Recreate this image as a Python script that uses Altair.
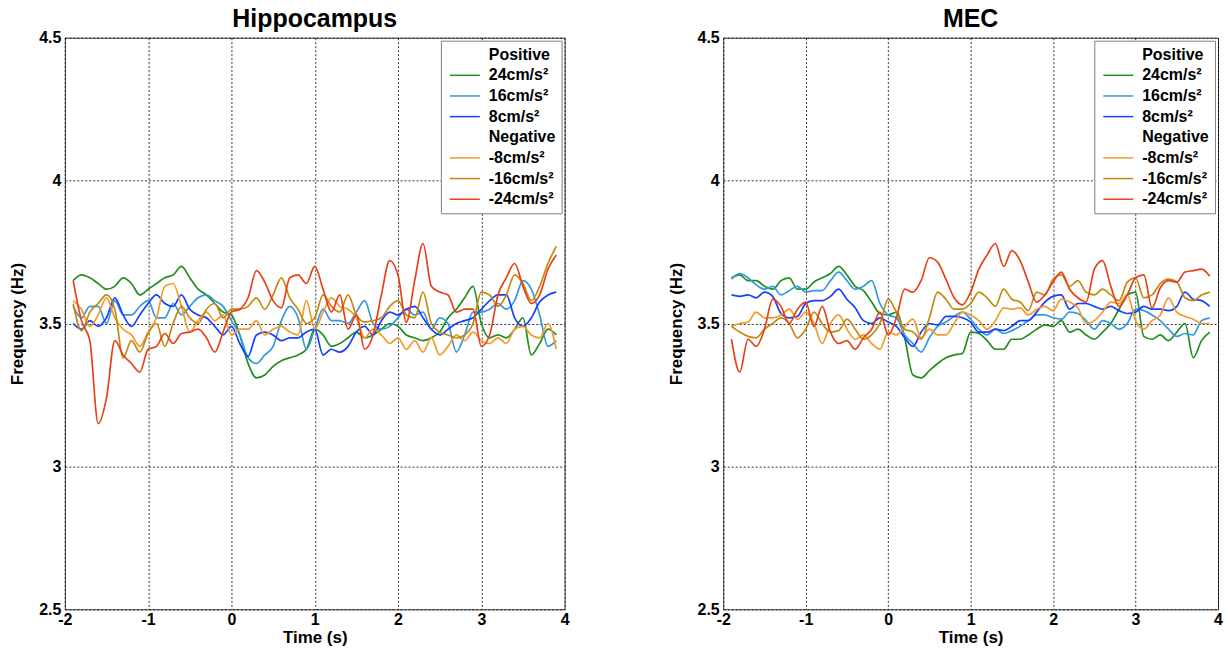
import altair as alt
import pandas as pd

TIME = [-1.9, -1.8, -1.7, -1.6, -1.5, -1.4, -1.3, -1.2, -1.1, -1.0,
        -0.9, -0.8, -0.7, -0.6, -0.5, -0.4, -0.3, -0.2, -0.1, 0.0,
        0.1, 0.2, 0.3, 0.4, 0.5, 0.6, 0.7, 0.8, 0.9, 1.0,
        1.1, 1.2, 1.3, 1.4, 1.5, 1.6, 1.7, 1.8, 1.9, 2.0,
        2.1, 2.2, 2.3, 2.4, 2.5, 2.6, 2.7, 2.8, 2.9, 3.0,
        3.1, 3.2, 3.3, 3.4, 3.5, 3.6, 3.7, 3.8, 3.9]

SERIES = ["24cm/s²", "16cm/s²", "8cm/s²", "-8cm/s²", "-16cm/s²", "-24cm/s²"]
LEGEND_ENTRIES = ["Positive", "24cm/s²", "16cm/s²", "8cm/s²",
                  "Negative", "-8cm/s²", "-16cm/s²", "-24cm/s²"]
COLORS = ["transparent", "#1f8f1f", "#3399dd", "#1540ff",
          "transparent", "#f39a2a", "#c48a10", "#e84118"]

HIP_P24 = [3.65, 3.67, 3.66, 3.64, 3.62, 3.63, 3.66, 3.64, 3.60, 3.62,
           3.64, 3.66, 3.67, 3.70, 3.66, 3.62, 3.60, 3.57, 3.54, 3.53,
           3.46, 3.36, 3.31, 3.32, 3.35, 3.37, 3.38, 3.39, 3.41, 3.48,
           3.46, 3.42, 3.43, 3.45, 3.47, 3.45, 3.46, 3.48, 3.50, 3.49,
           3.46, 3.45, 3.44, 3.45, 3.47, 3.52, 3.55, 3.59, 3.63, 3.50,
           3.45, 3.46, 3.45, 3.48, 3.52, 3.39, 3.43, 3.48, 3.46]
HIP_P16 = [3.56, 3.52, 3.56, 3.56, 3.50, 3.58, 3.53, 3.53, 3.56, 3.58,
           3.52, 3.52, 3.57, 3.53, 3.56, 3.59, 3.60, 3.58, 3.56, 3.51,
           3.46, 3.38, 3.36, 3.39, 3.42, 3.51, 3.56, 3.52, 3.41, 3.48,
           3.55, 3.51, 3.51, 3.50, 3.54, 3.58, 3.50, 3.48, 3.49, 3.52,
           3.55, 3.53, 3.54, 3.48, 3.52, 3.50, 3.40, 3.46, 3.54, 3.54,
           3.55, 3.57, 3.55, 3.58, 3.65, 3.62, 3.53, 3.42, 3.44]
HIP_P8 = [3.50, 3.48, 3.51, 3.49, 3.52, 3.59, 3.53, 3.49, 3.53, 3.57,
          3.60, 3.57, 3.56, 3.60, 3.55, 3.53, 3.52, 3.49, 3.46, 3.49,
          3.43, 3.385, 3.46, 3.47, 3.46, 3.44, 3.45, 3.45, 3.47, 3.48,
          3.39, 3.41, 3.40, 3.42, 3.47, 3.49, 3.46, 3.51, 3.54, 3.53,
          3.55, 3.56, 3.52, 3.48, 3.46, 3.48, 3.50, 3.51, 3.52, 3.55,
          3.58, 3.60, 3.60, 3.52, 3.49, 3.52, 3.575, 3.60, 3.61]
HIP_N8 = [3.58, 3.55, 3.49, 3.53, 3.59, 3.52, 3.48, 3.46, 3.42, 3.47,
          3.52, 3.63, 3.64, 3.56, 3.47, 3.51, 3.54, 3.51, 3.53, 3.46,
          3.48, 3.48, 3.51, 3.46, 3.48, 3.49, 3.47, 3.46, 3.58, 3.48,
          3.54, 3.59, 3.56, 3.55, 3.52, 3.45, 3.48, 3.46, 3.43, 3.45,
          3.41, 3.44, 3.40, 3.45, 3.39, 3.42, 3.46, 3.44, 3.47, 3.44,
          3.43, 3.45, 3.43, 3.48, 3.49, 3.46, 3.45, 3.50, 3.41]
HIP_N16 = [3.57, 3.475, 3.54, 3.57, 3.60, 3.55, 3.38, 3.44, 3.40, 3.465,
           3.50, 3.42, 3.50, 3.56, 3.52, 3.50, 3.55, 3.57, 3.52, 3.55,
           3.55, 3.56, 3.59, 3.55, 3.60, 3.66, 3.59, 3.55, 3.50, 3.52,
           3.60, 3.56, 3.54, 3.60, 3.53, 3.505, 3.51, 3.52, 3.56, 3.58,
           3.53, 3.52, 3.61, 3.50, 3.47, 3.46, 3.45, 3.46, 3.50, 3.61,
           3.60, 3.56, 3.60, 3.67, 3.64, 3.58, 3.63, 3.71, 3.77]
HIP_N24 = [3.65, 3.51, 3.44, 3.15, 3.24, 3.44, 3.39, 3.36, 3.33, 3.41,
           3.42, 3.465, 3.43, 3.465, 3.47, 3.48, 3.45, 3.40, 3.47, 3.54,
           3.55, 3.59, 3.685, 3.645, 3.58, 3.555, 3.66, 3.67, 3.64, 3.70,
           3.62, 3.54, 3.60, 3.48, 3.53, 3.41, 3.46, 3.60, 3.72, 3.67,
           3.505, 3.65, 3.78, 3.63, 3.61, 3.60, 3.54, 3.55, 3.55, 3.42,
           3.46, 3.60, 3.66, 3.71, 3.63, 3.57, 3.60, 3.69, 3.74]

MEC_P24 = [3.66, 3.67, 3.65, 3.65, 3.63, 3.62, 3.65, 3.66, 3.62, 3.62,
           3.645, 3.66, 3.675, 3.70, 3.67, 3.63, 3.615, 3.575, 3.535, 3.53,
           3.54, 3.45, 3.32, 3.31, 3.335, 3.36, 3.38, 3.39, 3.395, 3.47,
           3.465, 3.44, 3.41, 3.41, 3.445, 3.445, 3.46, 3.48, 3.495, 3.49,
           3.51, 3.47, 3.48, 3.46, 3.445, 3.47, 3.50, 3.55, 3.60, 3.61,
           3.455, 3.445, 3.46, 3.44, 3.47, 3.50, 3.38, 3.44, 3.47]
MEC_P16 = [3.655, 3.675, 3.66, 3.635, 3.62, 3.63, 3.60, 3.615, 3.63, 3.61,
           3.615, 3.615, 3.65, 3.68, 3.65, 3.62, 3.63, 3.65, 3.57, 3.53,
           3.52, 3.46, 3.43, 3.40, 3.45, 3.49, 3.505, 3.525, 3.54, 3.515,
           3.48, 3.46, 3.48, 3.465, 3.475, 3.49, 3.51, 3.53, 3.53, 3.52,
           3.515, 3.54, 3.535, 3.51, 3.48, 3.51, 3.50, 3.48, 3.50, 3.55,
           3.545, 3.53, 3.51, 3.48, 3.455, 3.465, 3.46, 3.51, 3.52]
MEC_P8 = [3.60, 3.595, 3.60, 3.59, 3.61, 3.595, 3.535, 3.52, 3.525, 3.57,
          3.58, 3.58, 3.595, 3.62, 3.585, 3.555, 3.51, 3.50, 3.52, 3.505,
          3.49, 3.45, 3.42, 3.47, 3.50, 3.495, 3.525, 3.525, 3.52, 3.505,
          3.47, 3.47, 3.48, 3.475, 3.49, 3.51, 3.51, 3.54, 3.575, 3.595,
          3.60, 3.55, 3.57, 3.57, 3.56, 3.55, 3.56, 3.545, 3.535, 3.54,
          3.56, 3.55, 3.55, 3.545, 3.56, 3.61, 3.585, 3.58, 3.56]
MEC_N8 = [3.49, 3.50, 3.505, 3.54, 3.52, 3.52, 3.53, 3.55, 3.515, 3.54,
          3.50, 3.43, 3.50, 3.53, 3.48, 3.445, 3.46, 3.43, 3.41, 3.47,
          3.46, 3.49, 3.515, 3.45, 3.48, 3.46, 3.46, 3.50, 3.54, 3.53,
          3.51, 3.48, 3.51, 3.555, 3.55, 3.555, 3.53, 3.55, 3.56, 3.545,
          3.585, 3.575, 3.555, 3.50, 3.51, 3.54, 3.575, 3.57, 3.60, 3.51,
          3.48, 3.51, 3.53, 3.59, 3.54, 3.525, 3.515, 3.50, 3.50]
MEC_N16 = [3.49, 3.47, 3.455, 3.45, 3.48, 3.50, 3.52, 3.50, 3.45, 3.48,
           3.54, 3.50, 3.47, 3.475, 3.515, 3.48, 3.445, 3.46, 3.50, 3.585,
           3.54, 3.48, 3.47, 3.445, 3.52, 3.61, 3.585, 3.55, 3.55, 3.57,
           3.61, 3.59, 3.56, 3.62, 3.585, 3.575, 3.545, 3.61, 3.60, 3.655,
           3.67, 3.63, 3.65, 3.61, 3.60, 3.62, 3.60, 3.58, 3.645, 3.66,
           3.59, 3.60, 3.64, 3.655, 3.645, 3.59, 3.58, 3.60, 3.61]
MEC_N24 = [3.445, 3.33, 3.445, 3.42, 3.48, 3.585, 3.56, 3.50, 3.55, 3.575,
           3.49, 3.56, 3.47, 3.43, 3.44, 3.41, 3.45, 3.48, 3.54, 3.46,
           3.52, 3.62, 3.61, 3.65, 3.73, 3.715, 3.655, 3.59, 3.565, 3.61,
           3.69, 3.74, 3.78, 3.70, 3.755, 3.72, 3.645, 3.575, 3.60, 3.645,
           3.68, 3.62, 3.59, 3.575, 3.69, 3.72, 3.63, 3.56, 3.60, 3.66,
           3.67, 3.555, 3.625, 3.65, 3.645, 3.68, 3.685, 3.69, 3.665]

HIP = [HIP_P24, HIP_P16, HIP_P8, HIP_N8, HIP_N16, HIP_N24]
MEC = [MEC_P24, MEC_P16, MEC_P8, MEC_N8, MEC_N16, MEC_N24]


def frame(series_values):
    rows = []
    for name, vals in zip(SERIES, series_values):
        assert len(vals) == len(TIME)
        for t, v in zip(TIME, vals):
            rows.append({"t": t, "f": v, "series": name})
    return pd.DataFrame(rows)


FONT = "Liberation Sans"


def panel(df, title, width):
    legend = alt.Legend(orient="none", legendX=width - 124, legendY=3,
                        title=None, symbolType="M-1,0H5",
                        symbolSize=100, symbolStrokeWidth=1.5,
                        labelOffset=26, padding=6, rowPadding=4.7,
                        strokeColor="#808080", fillColor="white",
                        labelFont=FONT, labelFontSize=16,
                        labelFontWeight="bold", labelColor="black",
                        labelLimit=0)
    return alt.Chart(df).mark_line(strokeWidth=1.7, interpolate="monotone", clip=True).encode(
        x=alt.X("t:Q",
                scale=alt.Scale(domain=[-2, 4], nice=False, zero=False),
                axis=alt.Axis(values=[-2, -1, 0, 1, 2, 3, 4], title="Time (s)",
                              labelExpr="datum.value + ''", labelPadding=2,
                              labelFlush=False, titlePadding=2)),
        y=alt.Y("f:Q",
                scale=alt.Scale(domain=[2.5, 4.5], nice=False, zero=False),
                axis=alt.Axis(values=[2.5, 3, 3.5, 4, 4.5], title="Frequency (Hz)",
                              labelExpr="datum.value + ''", labelPadding=4,
                              labelFlush=False, titlePadding=12)),
        color=alt.Color("series:N",
                        scale=alt.Scale(domain=LEGEND_ENTRIES, range=COLORS),
                        legend=legend),
        detail="series:N",
    ).properties(
        width=width, height=573,
        title=alt.TitleParams(title, font=FONT, fontSize=25, fontWeight="bold",
                              color="black", frame="group", baseline="bottom",
                              offset=-27),
    )


left = panel(frame(HIP), "Hippocampus", 501)
right = panel(frame(MEC), "MEC", 496)

chart = alt.hconcat(left, right, spacing=97).resolve_scale(
    color="independent"
).resolve_legend(color="independent").properties(
    padding={"left": 8, "top": 5, "right": 5, "bottom": 5},
    background="white",
).configure_view(
    stroke="#404040", strokeWidth=1
).configure_axis(
    grid=True, gridColor="black", gridDash=[2, 2], gridOpacity=1, gridWidth=0.8,
    domain=False, ticks=False,
    labelFont=FONT, labelFontSize=16, labelFontWeight="bold", labelColor="black",
    titleFont=FONT, titleFontSize=17, titleFontWeight="bold", titleColor="black",
)

chart.save("out.html", embed_options={"renderer": "svg", "actions": False})
